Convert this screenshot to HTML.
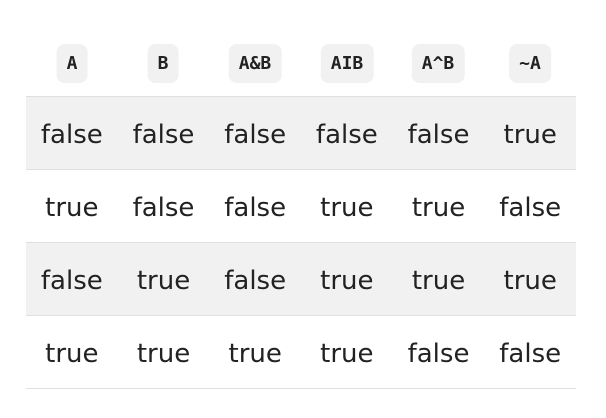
<!DOCTYPE html>
<html><head><style>
body{margin:0;width:606px;height:418px;background:#fff;position:relative;font-family:"DejaVu Sans","Liberation Sans",sans-serif;color:#222;}
.h{position:absolute;top:44px;height:39px;background:#f1f1f1;border-radius:8px;font:bold 18px "DejaVu Sans Mono","Liberation Mono",monospace;line-height:40px;text-align:center;transform:translateX(-50%);padding:0 10px;color:#222}
.row{position:absolute;left:26px;width:550px;height:72px;border-bottom:1px solid #e0e0e0;display:flex}
.row div{flex:1;text-align:center;font-size:26px;line-height:77px}
.g{background:#f1f1f1}
</style></head><body>
<div class="h" style="left:72px">A</div>
<div class="h" style="left:163px">B</div>
<div class="h" style="left:255px">A&amp;B</div>
<div class="h" style="left:347px">AIB</div>
<div class="h" style="left:438px">A^B</div>
<div class="h" style="left:530px">~A</div>
<div style="position:absolute;left:26px;top:96px;width:550px;height:1px;background:#e0e0e0"></div>
<div class="row g" style="top:97px"><div>false</div><div>false</div><div>false</div><div>false</div><div>false</div><div>true</div></div>
<div class="row" style="top:170px"><div>true</div><div>false</div><div>false</div><div>true</div><div>true</div><div>false</div></div>
<div class="row g" style="top:243px"><div>false</div><div>true</div><div>false</div><div>true</div><div>true</div><div>true</div></div>
<div class="row" style="top:316px"><div>true</div><div>true</div><div>true</div><div>true</div><div>false</div><div>false</div></div>
</body></html>
